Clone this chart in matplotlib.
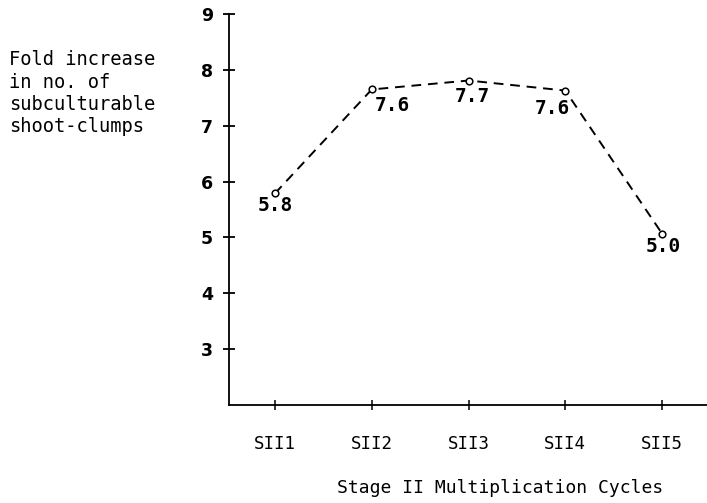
import matplotlib
matplotlib.use("Agg")
import matplotlib.pyplot as plt

categories = ["SII1", "SII2", "SII3", "SII4", "SII5"]
values = [5.79, 7.65, 7.81, 7.63, 5.07]
value_labels = ["5.8", "7.6", "7.7", "7.6", "5.0"]
y_ticks = [3, 4, 5, 6, 7, 8, 9]

# label offsets in points (layout only)
label_offsets = [(0, -9), (15, -11.5), (3, -11.5), (-9.5, -13), (1, -9.5)]

fig = plt.figure(figsize=(7.07, 5.03), dpi=100)
ax = fig.add_axes([0.324, 0.195, 0.676, 0.777])

x = list(range(1, len(categories) + 1))
ax.plot(x, values, linestyle=(0, (5, 3.5)), color="black", linewidth=1.4,
        marker="o", markersize=4.8, markerfacecolor="white",
        markeredgecolor="black", markeredgewidth=1.1, zorder=3)

mono = "DejaVu Sans Mono"
for xi, v, lab, off in zip(x, values, value_labels, label_offsets):
    ax.annotate(lab, (xi, v), xytext=off, textcoords="offset points",
                ha="center", va="center", fontsize=14, family=mono,
                fontweight="bold", zorder=4)

ax.set_xlim(0.525, 5.465)
ax.set_ylim(2, 9)
ax.set_xticks(x)
ax.set_xticklabels(categories, family=mono, fontsize=12.5)
ax.set_yticks(y_ticks)
ax.set_yticklabels([str(t) for t in y_ticks], family="DejaVu Sans",
                   fontweight="bold", fontsize=12.5)

for s in ["top", "right"]:
    ax.spines[s].set_visible(False)
for s in ["left", "bottom"]:
    ax.spines[s].set_linewidth(1.3)

ax.tick_params(axis="y", direction="inout", length=9, width=1.3, pad=7)
ax.tick_params(axis="x", direction="inout", length=7, width=1.1, pad=18)

ax.set_xlabel("Stage II Multiplication Cycles", family=mono, fontsize=13, va="center")
ax.xaxis.set_label_coords(0.567, -0.212)

fig.text(0.013, 0.90, "Fold increase\nin no. of\nsubculturable\nshoot-clumps",
         family=mono, fontsize=13.5, ha="left", va="top", linespacing=1.22)

fig.savefig("out.png", dpi=100)
